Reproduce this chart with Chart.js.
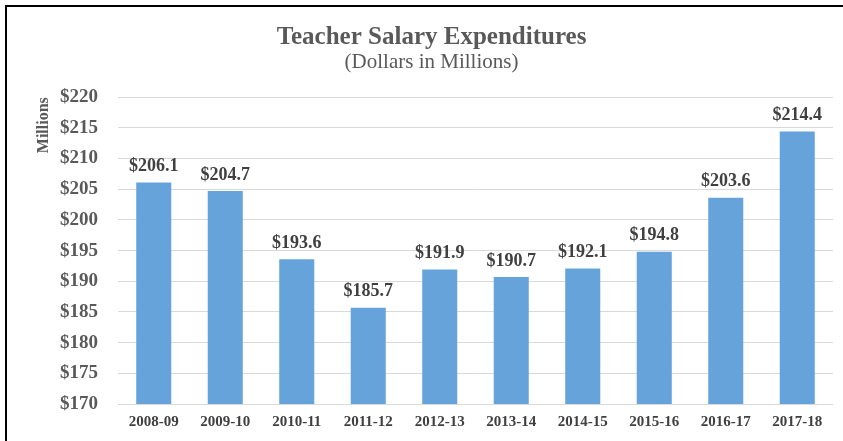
<!DOCTYPE html>
<html>
<head>
<meta charset="utf-8">
<script src="https://cdn.jsdelivr.net/npm/chart.js@4/dist/chart.umd.min.js"></script>
<style>
  html, body { margin: 0; padding: 0; background: #fff; }
  #wrap { position: relative; width: 843px; height: 441px; overflow: hidden; }
  #frame { position: absolute; left: 5px; top: 5px; width: 860px; height: 460px; border: 2px solid #000; }
  #chart { position: absolute; left: 0; top: 0; }
</style>
</head>
<body>
<div id="wrap">
  <div id="frame"></div>
  <canvas id="chart" width="843" height="441"></canvas>
</div>
<script>
    const years = ["2008-09", "2009-10", "2010-11", "2011-12", "2012-13", "2013-14", "2014-15", "2015-16", "2016-17", "2017-18"];
    const salaries = [206.1, 204.7, 193.6, 185.7, 191.9, 190.7, 192.1, 194.8, 203.6, 214.4];
    const yMin = 170;
    const yMax = 220;
    const yStep = 5;

    const serif = "'Liberation Serif', 'Times New Roman', serif";

    // etiquetas de valor encima de cada barra
    const etiquetas = {
        id: 'etiquetas',
        afterDatasetsDraw(chart) {
            const ctx = chart.ctx;
            const meta = chart.getDatasetMeta(0);
            ctx.save();
            ctx.font = "bold 18px " + serif;
            ctx.fillStyle = "#404040";
            ctx.textAlign = "center";
            ctx.textBaseline = "bottom";
            meta.data.forEach((bar, i) => {
                ctx.fillText("$" + salaries[i].toFixed(1), bar.x, bar.y - 7);
            });
            ctx.restore();
        }
    };

    new Chart(document.getElementById("chart"), {
        type: 'bar',
        data: {
            labels: years,
            datasets: [{
                label: 'Teacher Salary',
                data: salaries,
                backgroundColor: '#66A3DA',
                barPercentage: 0.49,
                categoryPercentage: 1
            }]
        },
        options: {
            responsive: false,
            animation: false,
            layout: { padding: { left: 30, right: 10, top: 0, bottom: 1 } },
            plugins: {
                legend: { display: false },
                tooltip: { enabled: false },
                title: {
                    display: true,
                    text: 'Teacher Salary Expenditures',
                    color: '#595959',
                    font: { family: serif, size: 25, weight: 'bold', lineHeight: 1 },
                    padding: { top: 25, bottom: 0 }
                },
                subtitle: {
                    display: true,
                    text: '(Dollars in Millions)',
                    color: '#595959',
                    font: { family: serif, size: 21 },
                    padding: { top: 0, bottom: 22 }
                }
            },
            scales: {
                x: {
                    grid: { display: false, drawTicks: false },
                    border: { display: false },
                    ticks: {
                        color: '#404040',
                        font: { family: serif, size: 15, weight: 'bold' },
                        padding: 9,
                        maxRotation: 0
                    }
                },
                y: {
                    min: yMin,
                    max: yMax,
                    grid: { color: '#D9D9D9', drawTicks: false },
                    border: { display: false },
                    ticks: {
                        stepSize: yStep,
                        color: '#595959',
                        font: { family: serif, size: 19, weight: 'bold' },
                        padding: 20,
                        callback: v => '$' + v
                    },
                    title: {
                        display: true,
                        text: 'Millions',
                        align: 'end',
                        color: '#595959',
                        font: { family: serif, size: 16, weight: 'bold' },
                        padding: { top: 4, bottom: 4 }
                    },
                    afterFit(scale) { scale.width = 88; }
                }
            }
        },
        plugins: [etiquetas]
    });
</script>
</body>
</html>
